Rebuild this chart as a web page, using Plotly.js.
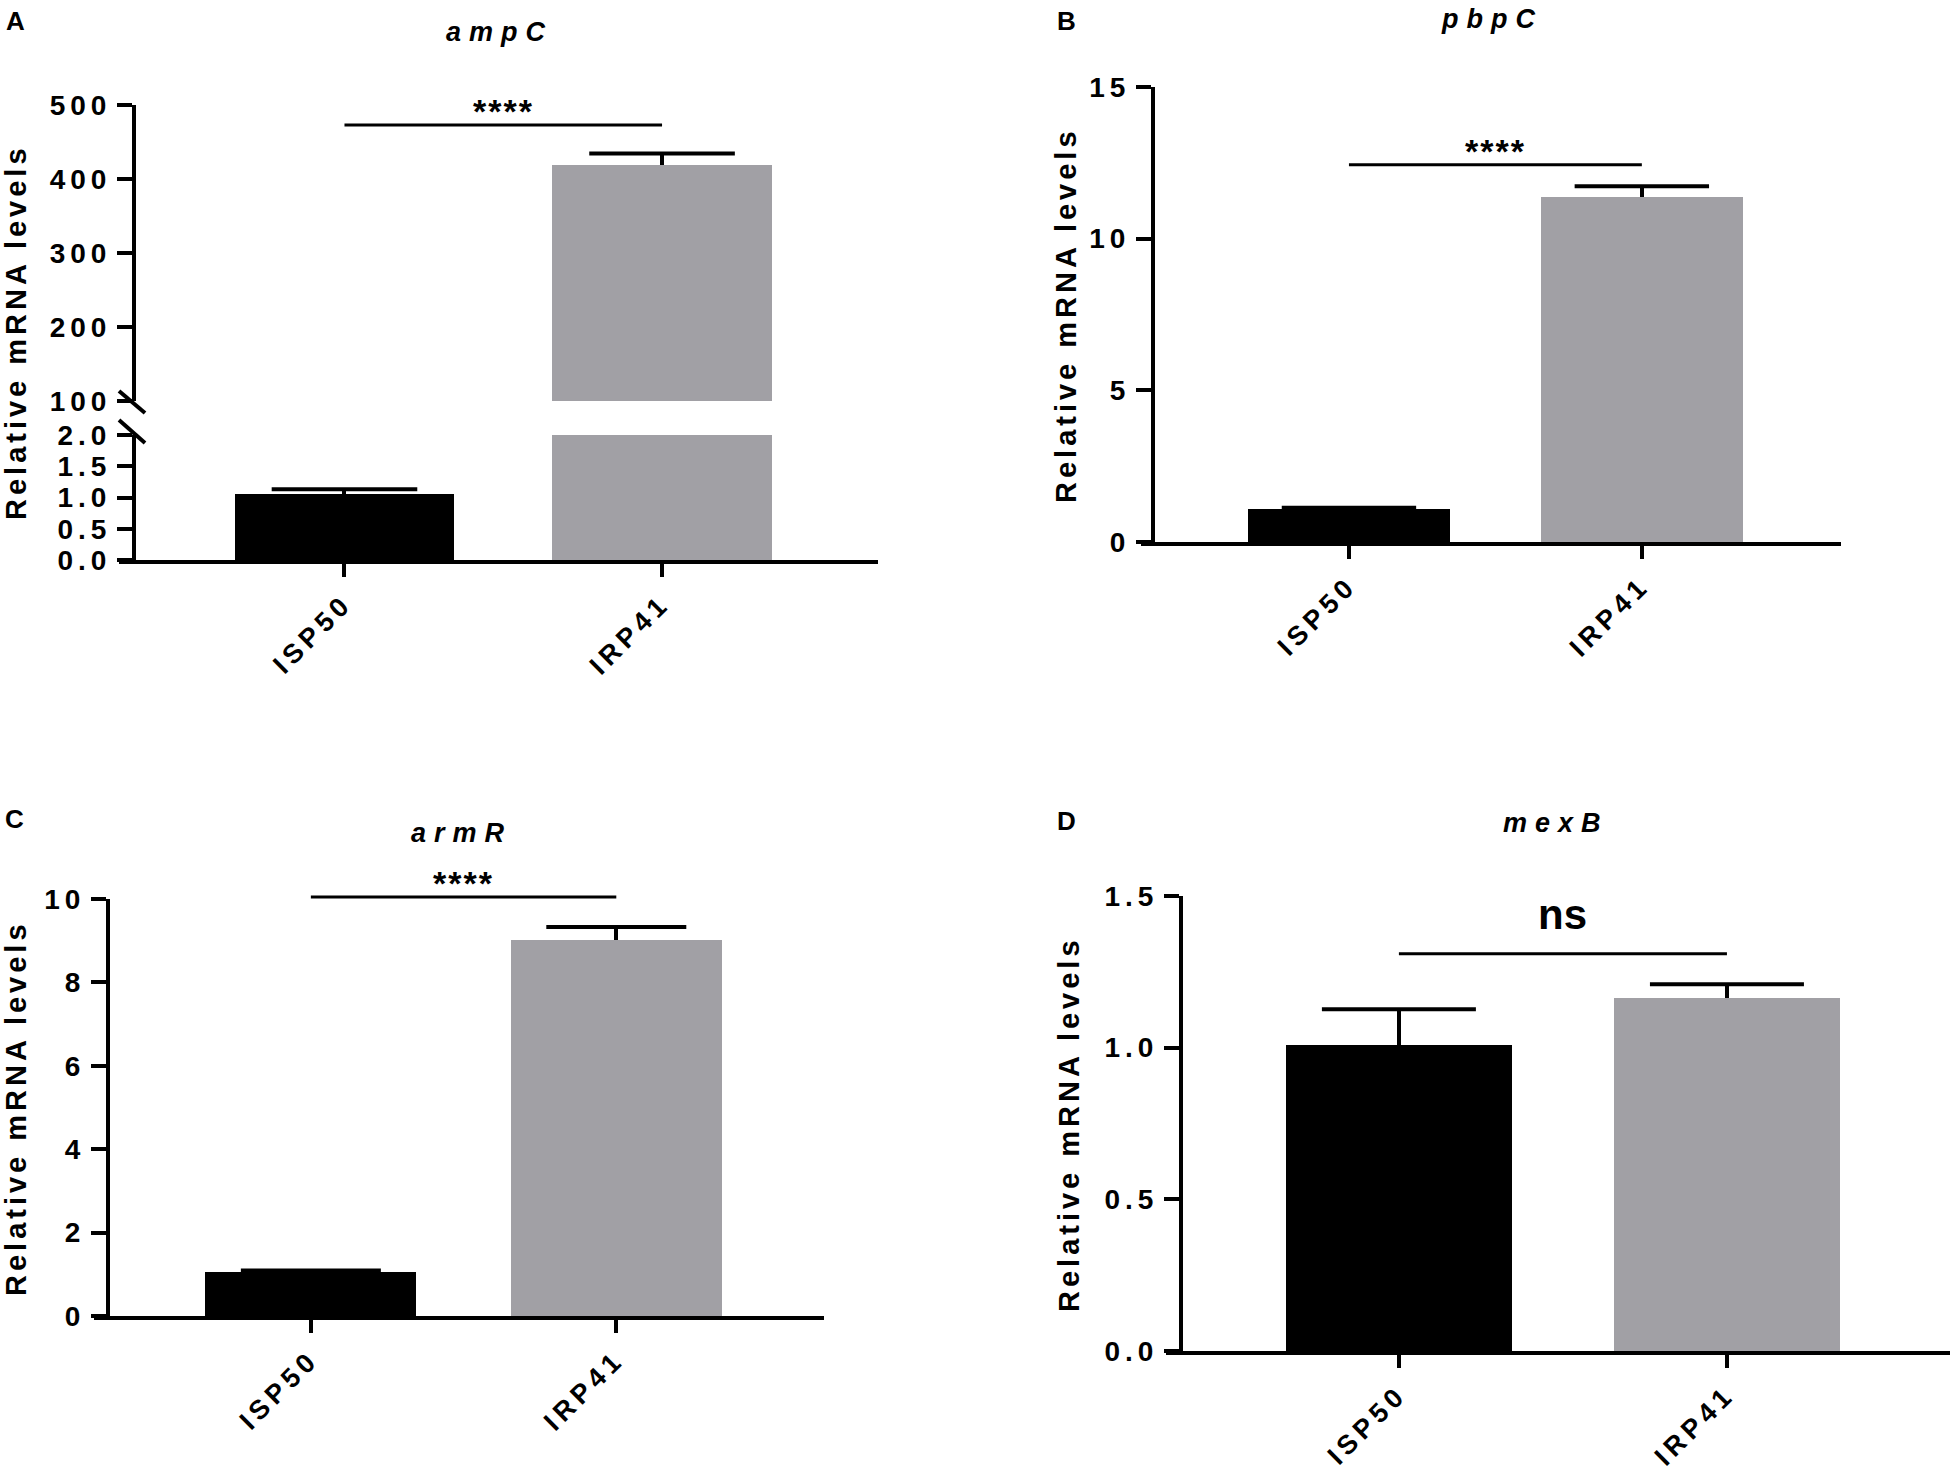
<!DOCTYPE html>
<html>
<head>
<meta charset="utf-8">
<script src="https://cdn.plot.ly/plotly-3.0.1.min.js"></script>
<style>
  html, body { margin: 0; padding: 0; background: #ffffff; }
  #chart .xaxislayer-above text { letter-spacing: 5px; }
  #chart .yaxislayer-above text { letter-spacing: 5px; }
</style>
</head>
<body>
<div id="chart" style="width:1950px;height:1473px;"></div>
<script>
// ---------------- data ----------------
const categories = ['ISP50', 'IRP41'];
const ampcMean = [1.06, 418.6];
const ampcErr  = [0.07, 16];
const pbpcMean = [1.10, 11.39];
const pbpcErr  = [0.03, 0.34];
const armrMean = [1.05, 9.02];
const armrErr  = [0.04, 0.31];
const mexbMean = [1.01, 1.165];
const mexbErr  = [0.117, 0.044];
const geneNames = ['ampC', 'pbpC', 'armR', 'mexB'];
const panelLetters = ['A', 'B', 'C', 'D'];
const sigLabels = ['****', '****', '****', 'ns'];
const sigLevels = [473, 12.44, 10.05, 1.31];
const yTitle = 'Relative mRNA levels';

// ---------------- styling ----------------
const barColors = ['#000000', '#a1a0a5'];
const W = 1950, H = 1473;
const px = v => v / W;
const py = v => 1 - v / H;
const FONT = 'Liberation Sans, Arial, Helvetica, sans-serif';
const tickFont = {family: FONT, size: 28, color: '#000', weight: 'bold'};
const xTickFont = {family: FONT, size: 27, color: '#000', weight: 'bold'};

function barTrace(mean, err, xa, ya) {
  return {
    type: 'bar', x: categories, y: mean, xaxis: xa, yaxis: ya, width: 0.69,
    marker: {color: barColors, line: {width: 0}},
    error_y: {type: 'data', symmetric: false, array: err, arrayminus: [0, 0],
              color: '#000', thickness: 4, width: 0},
    hoverinfo: 'skip', showlegend: false
  };
}
// cap (top whisker end) of each error bar
function capTrace(mean, err, xa, ya, capw) {
  return {
    type: 'scatter', mode: 'markers', x: categories,
    y: mean.map((m, i) => m + err[i]), xaxis: xa, yaxis: ya,
    marker: {symbol: 'line-ew', size: capw, color: '#000', line: {color: '#000', width: 4}},
    hoverinfo: 'skip', showlegend: false, cliponaxis: true
  };
}

const data = [
  barTrace(ampcMean, ampcErr, 'x', 'y'),
  barTrace(ampcMean, ampcErr, 'x', 'y2'),
  barTrace(pbpcMean, pbpcErr, 'x2', 'y3'),
  barTrace(armrMean, armrErr, 'x3', 'y4'),
  barTrace(mexbMean, mexbErr, 'x4', 'y5'),
  capTrace(ampcMean, ampcErr, 'x', 'y', 104),
  capTrace(ampcMean, ampcErr, 'x', 'y2', 104),
  capTrace(pbpcMean, pbpcErr, 'x2', 'y3', 96),
  capTrace(armrMean, armrErr, 'x3', 'y4', 100),
  capTrace(mexbMean, mexbErr, 'x4', 'y5', 110)
];

function xAx(d0, d1, anchor) {
  return {
    type: 'category', domain: [px(d0), px(d1)], anchor: anchor,
    range: [-0.71, 1.68], showline: true, linewidth: 4, linecolor: '#000',
    ticks: 'outside', ticklen: 13, tickwidth: 4, tickcolor: '#000',
    tickangle: -45, tickfont: xTickFont, showgrid: false, zeroline: false,
    fixedrange: true
  };
}
function yAx(top, bottom, pos, range, dtick, fmt) {
  return {
    domain: [py(bottom), py(top)], anchor: 'free', position: px(pos),
    range: range, tick0: range[0], dtick: dtick, tickformat: fmt || '',
    showline: true, linewidth: 4, linecolor: '#000',
    ticks: 'outside', ticklen: 15, tickwidth: 4, tickcolor: '#000',
    tickfont: tickFont, showgrid: false, zeroline: false, fixedrange: true
  };
}

const yRanges = {
  y: [0, 2], y2: [100, 500], y3: [0, 15], y4: [0, 10], y5: [0, 1.5]
};

const layout = {
  width: W, height: H,
  margin: {l: 0, r: 0, t: 0, b: 0},
  paper_bgcolor: '#fff', plot_bgcolor: 'rgba(0,0,0,0)',
  bargap: 0,
  showlegend: false,
  xaxis:  xAx(119, 878, 'y'),
  yaxis:  yAx(435, 560, 134, yRanges.y, 0.5, '.1f'),
  yaxis2: yAx(105, 401, 134, yRanges.y2, 100),
  xaxis2: xAx(1141, 1841, 'y3'),
  yaxis3: yAx(87, 542, 1153, yRanges.y3, 5),
  xaxis3: xAx(94, 824, 'y4'),
  yaxis4: yAx(899, 1316, 108, yRanges.y4, 2),
  xaxis4: xAx(1166, 1950, 'y5'),
  yaxis5: yAx(896, 1351, 1181, yRanges.y5, 0.5, '.1f'),
  shapes: [],
  annotations: []
};

// axis break marks on panel A
layout.shapes.push(
  {type: 'line', xref: 'paper', yref: 'paper', x0: px(119), x1: px(145), y0: py(391), y1: py(413), line: {color: '#000', width: 4}},
  {type: 'line', xref: 'paper', yref: 'paper', x0: px(119), x1: px(145), y0: py(420), y1: py(443), line: {color: '#000', width: 4}}
);

// significance brackets
const sigAxes = [['x', 'y2'], ['x2', 'y3'], ['x3', 'y4'], ['x4', 'y5']];
sigAxes.forEach(([xa, ya], i) => {
  const r = yRanges[ya];
  const f = (sigLevels[i] - r[0]) / (r[1] - r[0]);
  layout.shapes.push({
    type: 'line', xref: xa, yref: ya + ' domain',
    x0: categories[0], x1: categories[1], y0: f, y1: f,
    line: {color: '#000', width: 3}
  });
  const isNs = sigLabels[i] === 'ns';
  layout.annotations.push({
    xref: xa, yref: ya + ' domain', x: 0.5, y: f,
    text: isNs ? sigLabels[i] : '<span style="letter-spacing:2px">' + sigLabels[i] + '</span>',
    showarrow: false, xanchor: 'center', yanchor: 'bottom',
    yshift: isNs ? 14 : -7,
    font: {family: FONT, size: isNs ? 42 : 34, color: '#000', weight: 'bold'}
  });
});

// panel letters
const letterPos = [[15, 21], [1066, 21], [14, 819], [1066, 821]];
panelLetters.forEach((L, i) => {
  layout.annotations.push({
    xref: 'paper', yref: 'paper', x: px(letterPos[i][0]), y: py(letterPos[i][1]),
    xanchor: 'center', yanchor: 'middle', showarrow: false, text: L,
    font: {family: FONT, size: 26, color: '#000', weight: 'bold'}
  });
});

// gene titles (baseline positions)
const titlePos = [[500, 43], [1492, 30], [461, 844], [1556, 834]];
geneNames.forEach((g, i) => {
  layout.annotations.push({
    xref: 'paper', yref: 'paper', x: px(titlePos[i][0]), y: py(titlePos[i][1]),
    xanchor: 'center', yanchor: 'bottom', yshift: -6, showarrow: false,
    text: '<span style="letter-spacing:8px">' + g + '</span>',
    font: {family: FONT, size: 27, color: '#000', weight: 'bold', style: 'italic'}
  });
});

// y-axis titles
const yTitlePos = [[16, 332], [1066, 315], [16, 1108], [1069, 1124]];
yTitlePos.forEach(p => {
  layout.annotations.push({
    xref: 'paper', yref: 'paper', x: px(p[0]), y: py(p[1]),
    xanchor: 'center', yanchor: 'middle', textangle: -90, showarrow: false,
    text: '<span style="letter-spacing:4px">' + yTitle + '</span>',
    font: {family: FONT, size: 29, color: '#000', weight: 'bold'}
  });
});

Plotly.newPlot('chart', data, layout, {staticPlot: true, displayModeBar: false});
</script>
</body>
</html>
